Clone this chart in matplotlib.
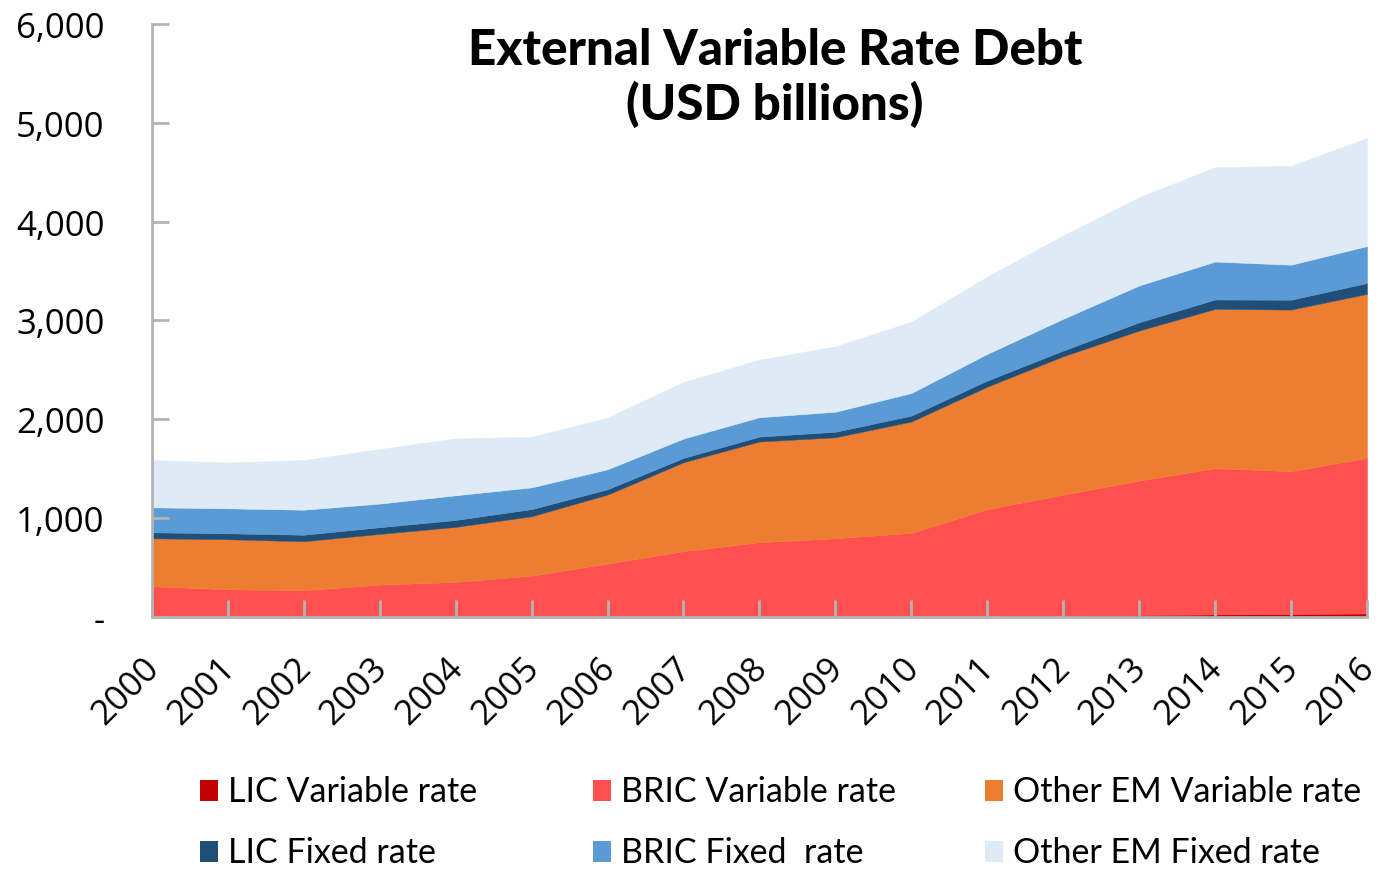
import numpy as np
import matplotlib.pyplot as plt
from matplotlib.ticker import FuncFormatter
from matplotlib.patches import Rectangle
from matplotlib.transforms import ScaledTranslation

years = list(range(2000, 2017))

lic_variable = [0, 0, 0, 0, 0, 0, 0, 0, 0, 0, 0, 5, 10, 20, 25, 30, 35]
bric_variable = [311, 280, 270, 327, 354, 418, 540, 665, 756, 796, 850, 1085, 1228, 1360, 1480, 1445, 1574]
other_em_variable = [485, 506, 496, 513, 557, 601, 698, 900, 1019, 1022, 1127, 1240, 1400, 1518, 1612, 1635, 1660]
lic_fixed = [60, 60, 66, 68, 70, 72, 54, 44, 50, 56, 60, 62, 58, 84, 95, 100, 110]
bric_fixed = [253, 253, 253, 239, 250, 220, 202, 196, 196, 202, 229, 270, 321, 372, 384, 354, 374]
other_em_fixed = [479, 465, 503, 553, 576, 512, 523, 573, 583, 662, 722, 783, 844, 894, 955, 1002, 1093]

labels = ["LIC Variable rate", "BRIC Variable rate", "Other EM Variable rate",
          "LIC Fixed rate", "BRIC Fixed  rate", "Other EM Fixed rate"]
colors = ["#C00000", "#FF5050", "#ED7D31", "#1F4E79", "#5B9BD5", "#DEEBF7"]

fig = plt.figure(figsize=(13.8, 8.7), dpi=100)
ax = fig.add_axes([0.110, 0.2897, 0.8806, 0.6816])

series = [lic_variable, bric_variable, other_em_variable, lic_fixed, bric_fixed, other_em_fixed]
polys = ax.stackplot(years, *series, colors=colors, labels=labels, linewidth=0.3)
for p, c in zip(polys, colors):
    p.set_edgecolor(c)

ax.set_xlim(2000, 2016)
ax.set_ylim(0, 6000)
ax.set_yticks(range(0, 6001, 1000))
ax.yaxis.set_major_formatter(FuncFormatter(lambda v, pos: "-" if v == 0 else f"{v:,.0f}"))
ax.set_xticks(years)
ax.set_xticklabels([str(y) for y in years], rotation=45, ha="right", rotation_mode="anchor")

for s in ["top", "right"]:
    ax.spines[s].set_visible(False)
for s in ["left", "bottom"]:
    ax.spines[s].set_color("#B3B3B3")
    ax.spines[s].set_linewidth(2)
ax.tick_params(axis="both", direction="in", length=12, width=2, color="#B3B3B3",
               labelsize=25, labelcolor="black")
ax.tick_params(axis="y", pad=34)
ax.tick_params(axis="x", pad=14)
shift = ScaledTranslation(-7 / 72, -10 / 72, fig.dpi_scale_trans)
for t in ax.get_xticklabels():
    t.set_fontfamily("Open Sans")
    t.set_transform(t.get_transform() + shift)
for t in ax.get_yticklabels():
    t.set_fontfamily("Open Sans")

fig.text(0.5616, 0.968, "External Variable Rate Debt\n(USD billions)", ha="center", va="top",
         fontsize=35.5, fontweight="black", fontfamily="Lato", linespacing=1.2)

# legend laid out as a 3 x 2 grid under the axis
col_x = [200, 593, 985]
row_y = [792, 853]
grid = [(0, 0), (1, 0), (2, 0), (0, 1), (1, 1), (2, 1)]
W, H = 1380, 870
for (c, r), lab, col in zip(grid, labels, colors):
    x0, y0 = col_x[c], row_y[r]
    fig.patches.append(Rectangle((x0 / W, 1 - (y0 + 10) / H), 18 / W, 21 / H,
                                 transform=fig.transFigure, facecolor=col, edgecolor="none"))
    fig.text((x0 + 28) / W, 1 - y0 / H, lab, ha="left", va="center",
             fontsize=24.5, fontfamily="Lato")

fig.savefig("out.png", dpi=100)
